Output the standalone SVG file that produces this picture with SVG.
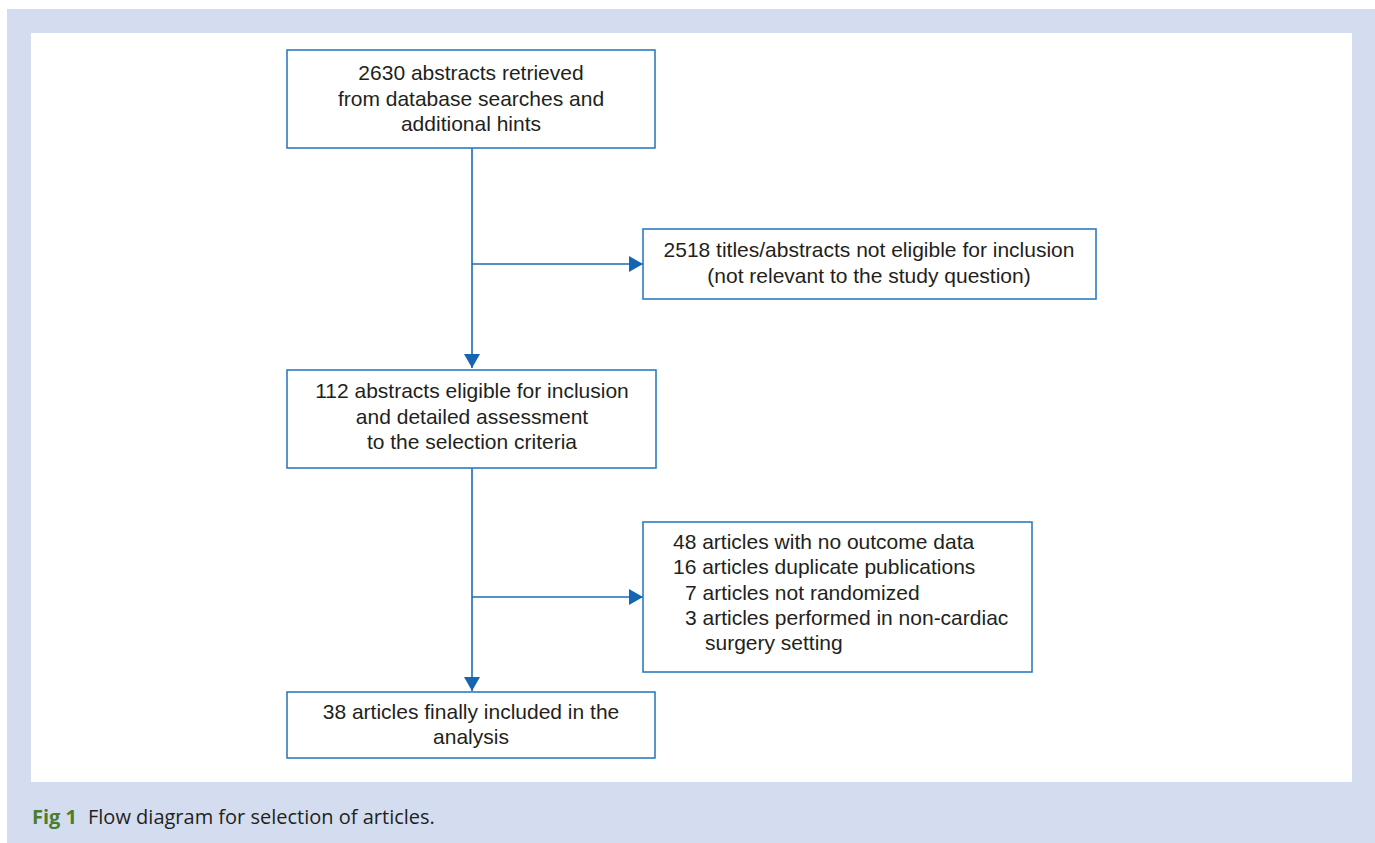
<svg xmlns="http://www.w3.org/2000/svg" width="1375" height="843" viewBox="0 0 1375 843">
<defs>
<style>
.bg{fill:#d4ddef}
.panel{fill:#ffffff}
.box{fill:#ffffff;stroke:#2e7cc0;stroke-width:1.6}
.t{font-family:"Liberation Sans",Arial,sans-serif;font-size:21px;fill:#231f20}
.c{text-anchor:middle}
.line{stroke:#1a6cb6;stroke-width:1.6;fill:none}
.cap{font-family:"Open Sans","Noto Sans",sans-serif;font-size:20px;fill:#231f20}
.capb{font-weight:bold;fill:#4c7d2c}
</style>
<marker id="ah" viewBox="0 0 14 16" refX="14" refY="8" markerWidth="14" markerHeight="16" markerUnits="userSpaceOnUse" orient="auto">
<path d="M0,0 L14,8 L0,16 Z" fill="#1565b3"/>
</marker>
</defs>
<rect class="bg" x="7" y="9" width="1368" height="834"/>
<rect class="panel" x="31" y="33" width="1321" height="749"/>
<g id="connectors">
<line class="line" x1="472" y1="148" x2="472" y2="368" marker-end="url(#ah)"/>
<line class="line" x1="472" y1="264" x2="643" y2="264" marker-end="url(#ah)"/>
<line class="line" x1="472" y1="468" x2="472" y2="691" marker-end="url(#ah)"/>
<line class="line" x1="472" y1="597" x2="643" y2="597" marker-end="url(#ah)"/>
</g>
<g id="n1">
<rect class="box" x="287" y="50" width="368" height="98"/>
<text class="t c" x="471" y="80">2630 abstracts retrieved</text>
<text class="t c" x="471" y="106">from database searches and</text>
<text class="t c" x="471" y="131">additional hints</text>
</g>
<g id="n2">
<rect class="box" x="643" y="229" width="453" height="70"/>
<text class="t c" x="869" y="257">2518 titles/abstracts not eligible for inclusion</text>
<text class="t c" x="869" y="283">(not relevant to the study question)</text>
</g>
<g id="n3">
<rect class="box" x="287" y="370" width="369" height="98"/>
<text class="t c" x="472" y="398">112 abstracts eligible for inclusion</text>
<text class="t c" x="472" y="424">and detailed assessment</text>
<text class="t c" x="472" y="449">to the selection criteria</text>
</g>
<g id="n4">
<rect class="box" x="643" y="522" width="389" height="150"/>
<text class="t" x="673" y="549">48 articles with no outcome data</text>
<text class="t" x="673" y="574">16 articles duplicate publications</text>
<text class="t" x="685" y="600">7 articles not randomized</text>
<text class="t" x="685" y="625">3 articles performed in non-cardiac</text>
<text class="t" x="705" y="650">surgery setting</text>
</g>
<g id="n5">
<rect class="box" x="287" y="692" width="368" height="66"/>
<text class="t c" x="471" y="719">38 articles finally included in the</text>
<text class="t c" x="471" y="744">analysis</text>
</g>
<text class="cap" y="824"><tspan class="capb" x="32">Fig 1</tspan><tspan x="88">Flow diagram for selection of articles.</tspan></text>
</svg>
